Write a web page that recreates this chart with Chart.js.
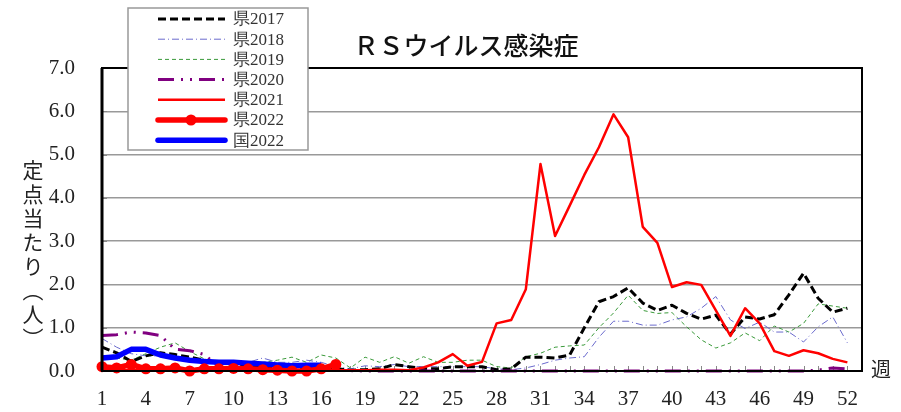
<!DOCTYPE html>
<html>
<head>
<meta charset="utf-8">
<script src="https://cdn.jsdelivr.net/npm/chart.js@4"></script>
<style>
  body { margin: 0; background: #fff; }
  #wrap { position: relative; width: 901px; height: 412px; }
  #title { position: absolute; left: 0; width: 932px; top: 26px; text-align: center;
    font: 500 25px "Noto Sans CJK JP"; color: #111; }
  #ytitle { position: absolute; left: 22px; top: 160px; writing-mode: vertical-rl; text-orientation: upright;
    font: 21px "Noto Sans CJK JP"; color: #222; line-height: 22px; letter-spacing: 3px; }
  #xunit { position: absolute; left: 871px; top: 354px; font: 20px "Noto Sans CJK JP"; color: #222; }
</style>
</head>
<body>
<div id="wrap">
  <canvas id="chart" width="901" height="412"></canvas>
  <div id="title">ＲＳウイルス感染症</div>
  <div id="ytitle">定点当たり（人）</div>
  <div id="xunit">週</div>
</div>
<script>
const weeks = Array.from({ length: 52 }, (_, i) => i + 1)
const weekTicks = [1, 4, 7, 10, 13, 16, 19, 22, 25, 28, 31, 34, 37, 40, 43, 46, 49, 52]
const yTicks = [0, 1, 2, 3, 4, 5, 6, 7]

const ken2017 = [0.55, 0.42, 0.22, 0.35, 0.42, 0.38, 0.32, 0.25, 0.2, 0.15, 0.12, 0.1, 0.08, 0.08, 0.08, 0.08,
  0.05, 0.02, 0.03, 0.05, 0.15, 0.1, 0.05, 0.05, 0.1, 0.1, 0.1, 0.03, 0.05, 0.32, 0.32, 0.3, 0.37, 1.0,
  1.6, 1.72, 1.92, 1.57, 1.4, 1.52, 1.33, 1.2, 1.29, 0.85, 1.25, 1.2, 1.3, 1.76, 2.26, 1.68, 1.36, 1.45]
const ken2018 = [0.75, 0.55, 0.4, 0.35, 0.35, 0.3, 0.25, 0.2, 0.2, 0.18, 0.2, 0.3, 0.2, 0.2, 0.25, 0.2,
  0.1, 0.05, 0.12, 0.1, 0.15, 0.1, 0.1, 0.1, 0.1, 0.1, 0.1, 0.05, 0.03, 0.07, 0.15, 0.25, 0.3, 0.33,
  0.78, 1.15, 1.15, 1.06, 1.06, 1.18, 1.25, 1.45, 1.72, 1.18, 0.98, 1.13, 0.9, 0.9, 0.67, 1.02, 1.25, 0.65]
const ken2019 = [0.3, 0.3, 0.25, 0.4, 0.55, 0.65, 0.45, 0.28, 0.2, 0.2, 0.15, 0.2, 0.25, 0.32, 0.2, 0.37,
  0.3, 0.07, 0.32, 0.2, 0.33, 0.18, 0.33, 0.2, 0.2, 0.25, 0.25, 0.1, 0.07, 0.33, 0.41, 0.55, 0.58, 0.6,
  1.0, 1.34, 1.75, 1.4, 1.33, 1.35, 1.02, 0.72, 0.53, 0.65, 0.88, 0.7, 1.04, 0.9, 1.1, 1.55, 1.5, 1.45]
const ken2020 = [0.82, 0.84, 0.9, 0.88, 0.82, 0.5, 0.47, 0.38, 0.1, 0.05, 0.02, 0.02, 0.02, 0.01, 0.01, 0.01,
  0.01, 0.01, 0, 0, 0, 0, 0, 0, 0, 0, 0, 0, 0, 0, 0, 0, 0, 0,
  0, 0, 0, 0, 0, 0, 0, 0, 0, 0, 0, 0, 0, 0, 0, 0.02, 0.07, 0.05]
const ken2021 = [0.02, 0.02, 0.02, 0.02, 0.02, 0.02, 0.02, 0.02, 0.02, 0.02, 0.02, 0.02, 0.02, 0.02, 0.02, 0.02,
  0.02, 0.02, 0.02, 0.03, 0.03, 0.02, 0.08, 0.2, 0.39, 0.12, 0.21, 1.1, 1.18, 1.89, 4.78, 3.12, 3.82, 4.53,
  5.17, 5.93, 5.4, 3.33, 2.96, 1.94, 2.05, 1.99, 1.4, 0.81, 1.45, 1.1, 0.46, 0.35, 0.48, 0.41, 0.28, 0.2]
const ken2022 = [0.1, 0.07, 0.15, 0.05, 0.05, 0.07, 0.0, 0.05, 0.05, 0.06, 0.05, 0.03, 0.02, 0.0, 0.0, 0.05, 0.15]
const kuni2022 = [0.3, 0.33, 0.5, 0.5, 0.37, 0.3, 0.25, 0.22, 0.2, 0.2, 0.18, 0.16, 0.14, 0.12, 0.13, 0.13]

const pts = vals => vals.map((v, i) => ({ x: weeks[i], y: v }))

const serif = '"Liberation Serif", "DejaVu Serif", serif'

// inner tick marks, plot frame and legend box
const frame = {
  id: 'frame',
  beforeDatasetsDraw(chart) {
    const { ctx, chartArea: a, scales: { x, y } } = chart
    ctx.save()
    ctx.strokeStyle = '#888'
    ctx.lineWidth = 1
    ctx.beginPath()
    for (let w = 1; w <= 53; w++) {
      const px = Math.round(x.getPixelForValue(w)) + 0.5
      ctx.moveTo(px, a.bottom)
      ctx.lineTo(px, a.bottom - 5)
    }
    yTicks.forEach(v => {
      const py = Math.round(y.getPixelForValue(v)) + 0.5
      ctx.moveTo(a.left, py)
      ctx.lineTo(a.left + 5, py)
    })
    ctx.stroke()
    ctx.restore()
  },
  afterDatasetsDraw(chart) {
    const { ctx, chartArea: a } = chart
    ctx.save()
    ctx.strokeStyle = '#000'
    ctx.lineWidth = 2
    ctx.strokeRect(a.left, a.top, a.right - a.left, a.bottom - a.top)
    ctx.lineWidth = 3
    ctx.beginPath()
    ctx.moveTo(a.left, a.top)
    ctx.lineTo(a.left, a.bottom)
    ctx.stroke()

    // legend
    ctx.fillStyle = '#fff'
    ctx.fillRect(128, 8, 180, 142)
    ctx.strokeStyle = '#999'
    ctx.lineWidth = 1.5
    ctx.strokeRect(128, 8, 180, 142)
    chart.data.datasets.forEach((ds, i) => {
      const cy = 19 + i * 20.2
      ctx.strokeStyle = ds.borderColor
      ctx.lineWidth = ds.borderWidth
      ctx.setLineDash(ds.borderDash || [])
      ctx.lineCap = ds.borderWidth >= 4 ? 'round' : 'butt'
      ctx.beginPath()
      ctx.moveTo(158, cy)
      ctx.lineTo(225, cy)
      ctx.stroke()
      ctx.setLineDash([])
      if (ds.pointRadius > 0) {
        ctx.fillStyle = ds.borderColor
        ctx.beginPath()
        ctx.arc(191, cy, ds.pointRadius, 0, Math.PI * 2)
        ctx.fill()
      }
      ctx.fillStyle = '#333'
      ctx.font = '17px ' + serif
      ctx.textBaseline = 'middle'
      ctx.fillText(ds.label, 233, cy + 1)
    })
    ctx.restore()
  }
}

new Chart(document.getElementById('chart'), {
  type: 'line',
  data: {
    datasets: [
      { label: '県2017', data: pts(ken2017), borderColor: '#000', borderWidth: 3, borderDash: [8, 4], order: 5 },
      { label: '県2018', data: pts(ken2018), borderColor: '#6a6acd', borderWidth: 1, borderDash: [7, 3, 1, 3], order: 6 },
      { label: '県2019', data: pts(ken2019), borderColor: '#3a9a3a', borderWidth: 1, borderDash: [4, 3], order: 7 },
      { label: '県2020', data: pts(ken2020), borderColor: '#800080', borderWidth: 3, borderDash: [16, 7, 2, 7, 2, 7], order: 4 },
      { label: '県2021', data: pts(ken2021), borderColor: '#ff0000', borderWidth: 2.5, order: 3 },
      { label: '県2022', data: pts(ken2022), borderColor: '#ff0000', backgroundColor: '#ff0000', borderWidth: 5.5,
        pointRadius: 5.5, pointBackgroundColor: '#ff0000', pointBorderWidth: 0, order: 1 },
      { label: '国2022', data: pts(kuni2022), borderColor: '#0000ff', borderWidth: 5.5, order: 2 }
    ]
  },
  options: {
    responsive: false,
    animation: false,
    events: [],
    layout: { padding: { top: 68, right: 39, left: 0, bottom: 0 } },
    datasets: { line: { clip: false } },
    elements: {
      line: { tension: 0, fill: false, borderJoinStyle: 'round' },
      point: { radius: 0, hoverRadius: 0 }
    },
    plugins: { legend: { display: false }, tooltip: { enabled: false }, title: { display: false } },
    scales: {
      x: {
        type: 'linear', min: 1, max: 53,
        afterBuildTicks: s => { s.ticks = weekTicks.map(v => ({ value: v })) },
        afterFit: s => { s.height = 41 },
        grid: { display: false, drawTicks: false },
        border: { display: false },
        ticks: { padding: 16, color: '#222', font: { family: serif, size: 21 }, maxRotation: 0, autoSkip: false }
      },
      y: {
        min: 0, max: 7,
        afterBuildTicks: s => { s.ticks = yTicks.map(v => ({ value: v })) },
        afterFit: s => { s.width = 102 },
        grid: { color: '#999', lineWidth: 1.5, drawTicks: false },
        border: { display: false },
        ticks: { padding: 27, color: '#222', font: { family: serif, size: 21 }, callback: v => v.toFixed(1) }
      }
    }
  },
  plugins: [frame]
})
</script>
</body>
</html>
